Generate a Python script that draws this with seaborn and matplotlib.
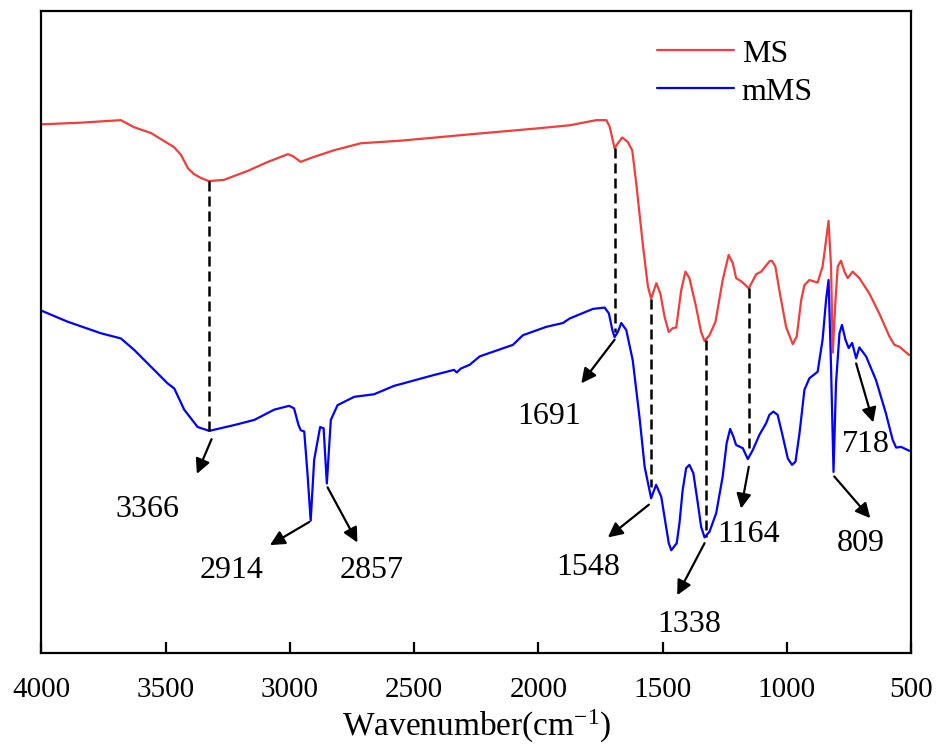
import numpy as np
import pandas as pd
import matplotlib
matplotlib.use("Agg")
import matplotlib.pyplot as plt
import seaborn as sns

# FTIR spectra (wavenumber in cm-1, transmittance in a.u.)
ms_wn = [3998, 3844, 3680, 3627, 3559, 3466, 3438, 3410, 3386, 3358, 3326, 3265,
         3169, 3088, 3008, 2988, 2956, 2916, 2823, 2714, 2554, 2272, 2008, 1874,
         1767, 1726, 1713, 1693, 1680, 1662, 1640, 1622, 1606, 1579, 1559, 1546,
         1525, 1509, 1492, 1475, 1459, 1445, 1425, 1408, 1392, 1365, 1345, 1331,
         1311, 1287, 1258, 1234, 1217, 1204, 1180, 1153, 1123, 1103, 1070, 1060,
         1046, 1030, 1003, 976, 960, 942, 929, 909, 876, 856, 842, 832, 822, 815,
         804, 795, 782, 768, 755, 735, 708, 668, 628, 587, 567, 547, 507]
ms_t = [82.35, 82.6, 83.0, 81.9, 81.0, 78.8, 77.6, 75.5, 74.6, 74.0, 73.5, 73.7,
        75.1, 76.5, 77.7, 77.4, 76.5, 77.1, 78.3, 79.4, 79.8, 80.8, 81.7, 82.2,
        83.0, 83.0, 82.0, 78.6, 79.4, 80.3, 79.6, 78.3, 73.2, 63.5, 57.1, 55.2,
        57.6, 56.0, 52.4, 50.0, 50.6, 50.7, 56.5, 59.4, 58.4, 53.9, 50.0, 48.6,
        49.5, 51.6, 58.1, 62.0, 60.7, 58.4, 57.8, 56.8, 59.0, 59.4, 61.0, 61.1,
        60.2, 56.5, 50.8, 48.1, 49.3, 55.0, 57.3, 58.1, 57.7, 60.2, 64.3, 67.3, 60.2, 46.8,
        55.0, 60.2, 61.1, 59.4, 58.4, 59.4, 58.4, 56.0, 52.9, 49.3, 48.0, 47.7, 46.4]

mms_wn = [3998, 3894, 3760, 3680, 3626, 3492, 3465, 3425, 3371, 3324, 3224, 3143,
          3063, 3003, 2983, 2965, 2956, 2942, 2929, 2916, 2902, 2878, 2864, 2851,
          2835, 2808, 2741, 2661, 2581, 2420, 2339, 2328, 2312, 2276, 2236, 2102,
          2062, 1968, 1901, 1874, 1780, 1733, 1716, 1702, 1693, 1680, 1666, 1646,
          1620, 1593, 1572, 1546, 1526, 1505, 1488, 1475, 1465, 1443, 1432, 1419,
          1405, 1392, 1376, 1358, 1345, 1331, 1311, 1284, 1258, 1242, 1228, 1215,
          1204, 1177, 1157, 1137, 1110, 1083, 1070, 1054, 1037, 1016, 996, 979,
          965, 949, 929, 909, 876, 856, 842, 832, 822, 812, 802, 788, 778, 764,
          751, 737, 721, 708, 681, 641, 601, 574, 560, 540, 507]
mms_t = [53.3, 51.6, 49.8, 49.0, 47.2, 42.0, 41.2, 37.9, 35.2, 34.6, 35.5, 36.3,
         37.9, 38.5, 38.1, 35.5, 34.7, 34.5, 28.0, 20.6, 30.1, 35.2, 35.0, 26.4,
         36.3, 38.6, 39.9, 40.3, 41.6, 43.3, 44.1, 43.7, 44.3, 44.9, 46.2, 48.0,
         49.5, 50.8, 51.4, 52.1, 53.6, 53.8, 52.9, 50.3, 49.2, 50.0, 51.4, 50.3,
         45.6, 36.8, 29.0, 24.1, 26.2, 24.3, 20.2, 17.1, 16.0, 17.1, 20.2, 25.4,
         28.8, 29.3, 28.0, 23.3, 19.7, 18.0, 18.9, 21.8, 27.5, 32.7, 34.9, 33.7,
         32.4, 31.9, 30.2, 31.6, 34.0, 35.8, 37.1, 37.6, 37.1, 33.7, 30.3, 29.3,
         29.8, 34.2, 41.0, 42.8, 43.8, 48.8, 55.0, 58.1, 44.6, 28.2, 42.0, 49.8, 51.1, 48.8,
         47.5, 48.3, 45.9, 47.6, 46.2, 42.5, 37.3, 33.2, 32.0, 32.1, 31.5]

# dashed guides linking the two spectra
guide_x = [3324, 1693, 1546, 1327, 1153]
guide_top = [73.5, 78.7, 55.2, 48.8, 56.9]
guide_bot = [34.6, 50.0, 25.9, 18.1, 31.6]

# arrows (start -> tip) and band labels
arrow_labels = ["3366", "2914", "2857", "1691", "1548", "1338", "1164", "809", "718"]
arrow_start = [(3315, 33.3), (2922, 20.4), (2848, 25.8), (1693, 48.8), (1555, 23.1),
               (1331, 17.1), (1153, 29.0), (809, 27.5), (721, 45.1)]
arrow_tip = [(3374, 27.9), (3080, 16.8), (2728, 17.2), (1827, 42.0), (1720, 18.0),
             (1441, 9.0), (1184, 22.5), (664, 21.0), (652, 35.9)]
text_pos = [(3573, 22.4), (3235, 12.9), (2672, 12.9), (1955, 36.8), (1800, 13.3),
            (1392, 4.5), (1152, 18.5), (704, 17.1), (681, 32.4)]

df = pd.concat([
    pd.DataFrame({"wn": ms_wn, "T": ms_t, "sample": "MS"}),
    pd.DataFrame({"wn": mms_wn, "T": mms_t, "sample": "mMS"}),
])

sns.set_style("ticks")
plt.rcParams["font.family"] = ["Liberation Serif", "DejaVu Serif"]
plt.rcParams["mathtext.fontset"] = "custom"
plt.rcParams["mathtext.rm"] = "Liberation Serif"
plt.rcParams["mathtext.it"] = "Liberation Serif:italic"
for key in ["text.color", "axes.labelcolor", "xtick.color", "ytick.color", "axes.edgecolor"]:
    plt.rcParams[key] = "black"

fig = plt.figure(figsize=(9.37, 7.49), dpi=100)
ax = fig.add_axes([0.0441, 0.1282, 0.9282, 0.8571])

sns.lineplot(data=df, x="wn", y="T", hue="sample", palette={"MS": "#ee3e3e", "mMS": "#0000ff"},
             estimator=None, sort=False, linewidth=1.6, ax=ax)

for x, y0, y1 in zip(guide_x, guide_top, guide_bot):
    ax.plot([x, x], [y0, y1], color="black", linestyle=(0, (4, 2)), linewidth=1.8)

for lab, s, t, p in zip(arrow_labels, arrow_start, arrow_tip, text_pos):
    ax.annotate("", xy=t, xytext=s,
                arrowprops=dict(arrowstyle="-|>", color="black", lw=1.6,
                                mutation_scale=22, shrinkA=0, shrinkB=0))
    ax.text(p[0], p[1], lab, fontsize=23, ha="center", va="center")

ax.set_xlim(4000, 500)
ax.set_ylim(0, 100)
ax.set_xticks([4000, 3500, 3000, 2500, 2000, 1500, 1000, 500])
ax.set_yticks([])
ax.set_ylabel("")
ax.set_xlabel("Wavenumber(cm$^{-1}$)", fontsize=24, labelpad=4)
ax.tick_params(axis="x", direction="in", length=8, width=1.6, labelsize=21, pad=17)
for lab in ax.get_xticklabels():
    lab.set_fontfamily(["Liberation Serif", "DejaVu Serif"])
for sp in ax.spines.values():
    sp.set_linewidth(1.6)
    sp.set_color("black")
    sp.set_visible(True)

leg = ax.legend(loc="upper left", bbox_to_anchor=(0.708, 0.956), frameon=False,
                fontsize=23, handlelength=2.4, handletextpad=0.25, labelspacing=0.27,
                borderaxespad=0, borderpad=0)
for line in leg.get_lines():
    line.set_linewidth(1.6)

fig.savefig("out.png", dpi=100)
